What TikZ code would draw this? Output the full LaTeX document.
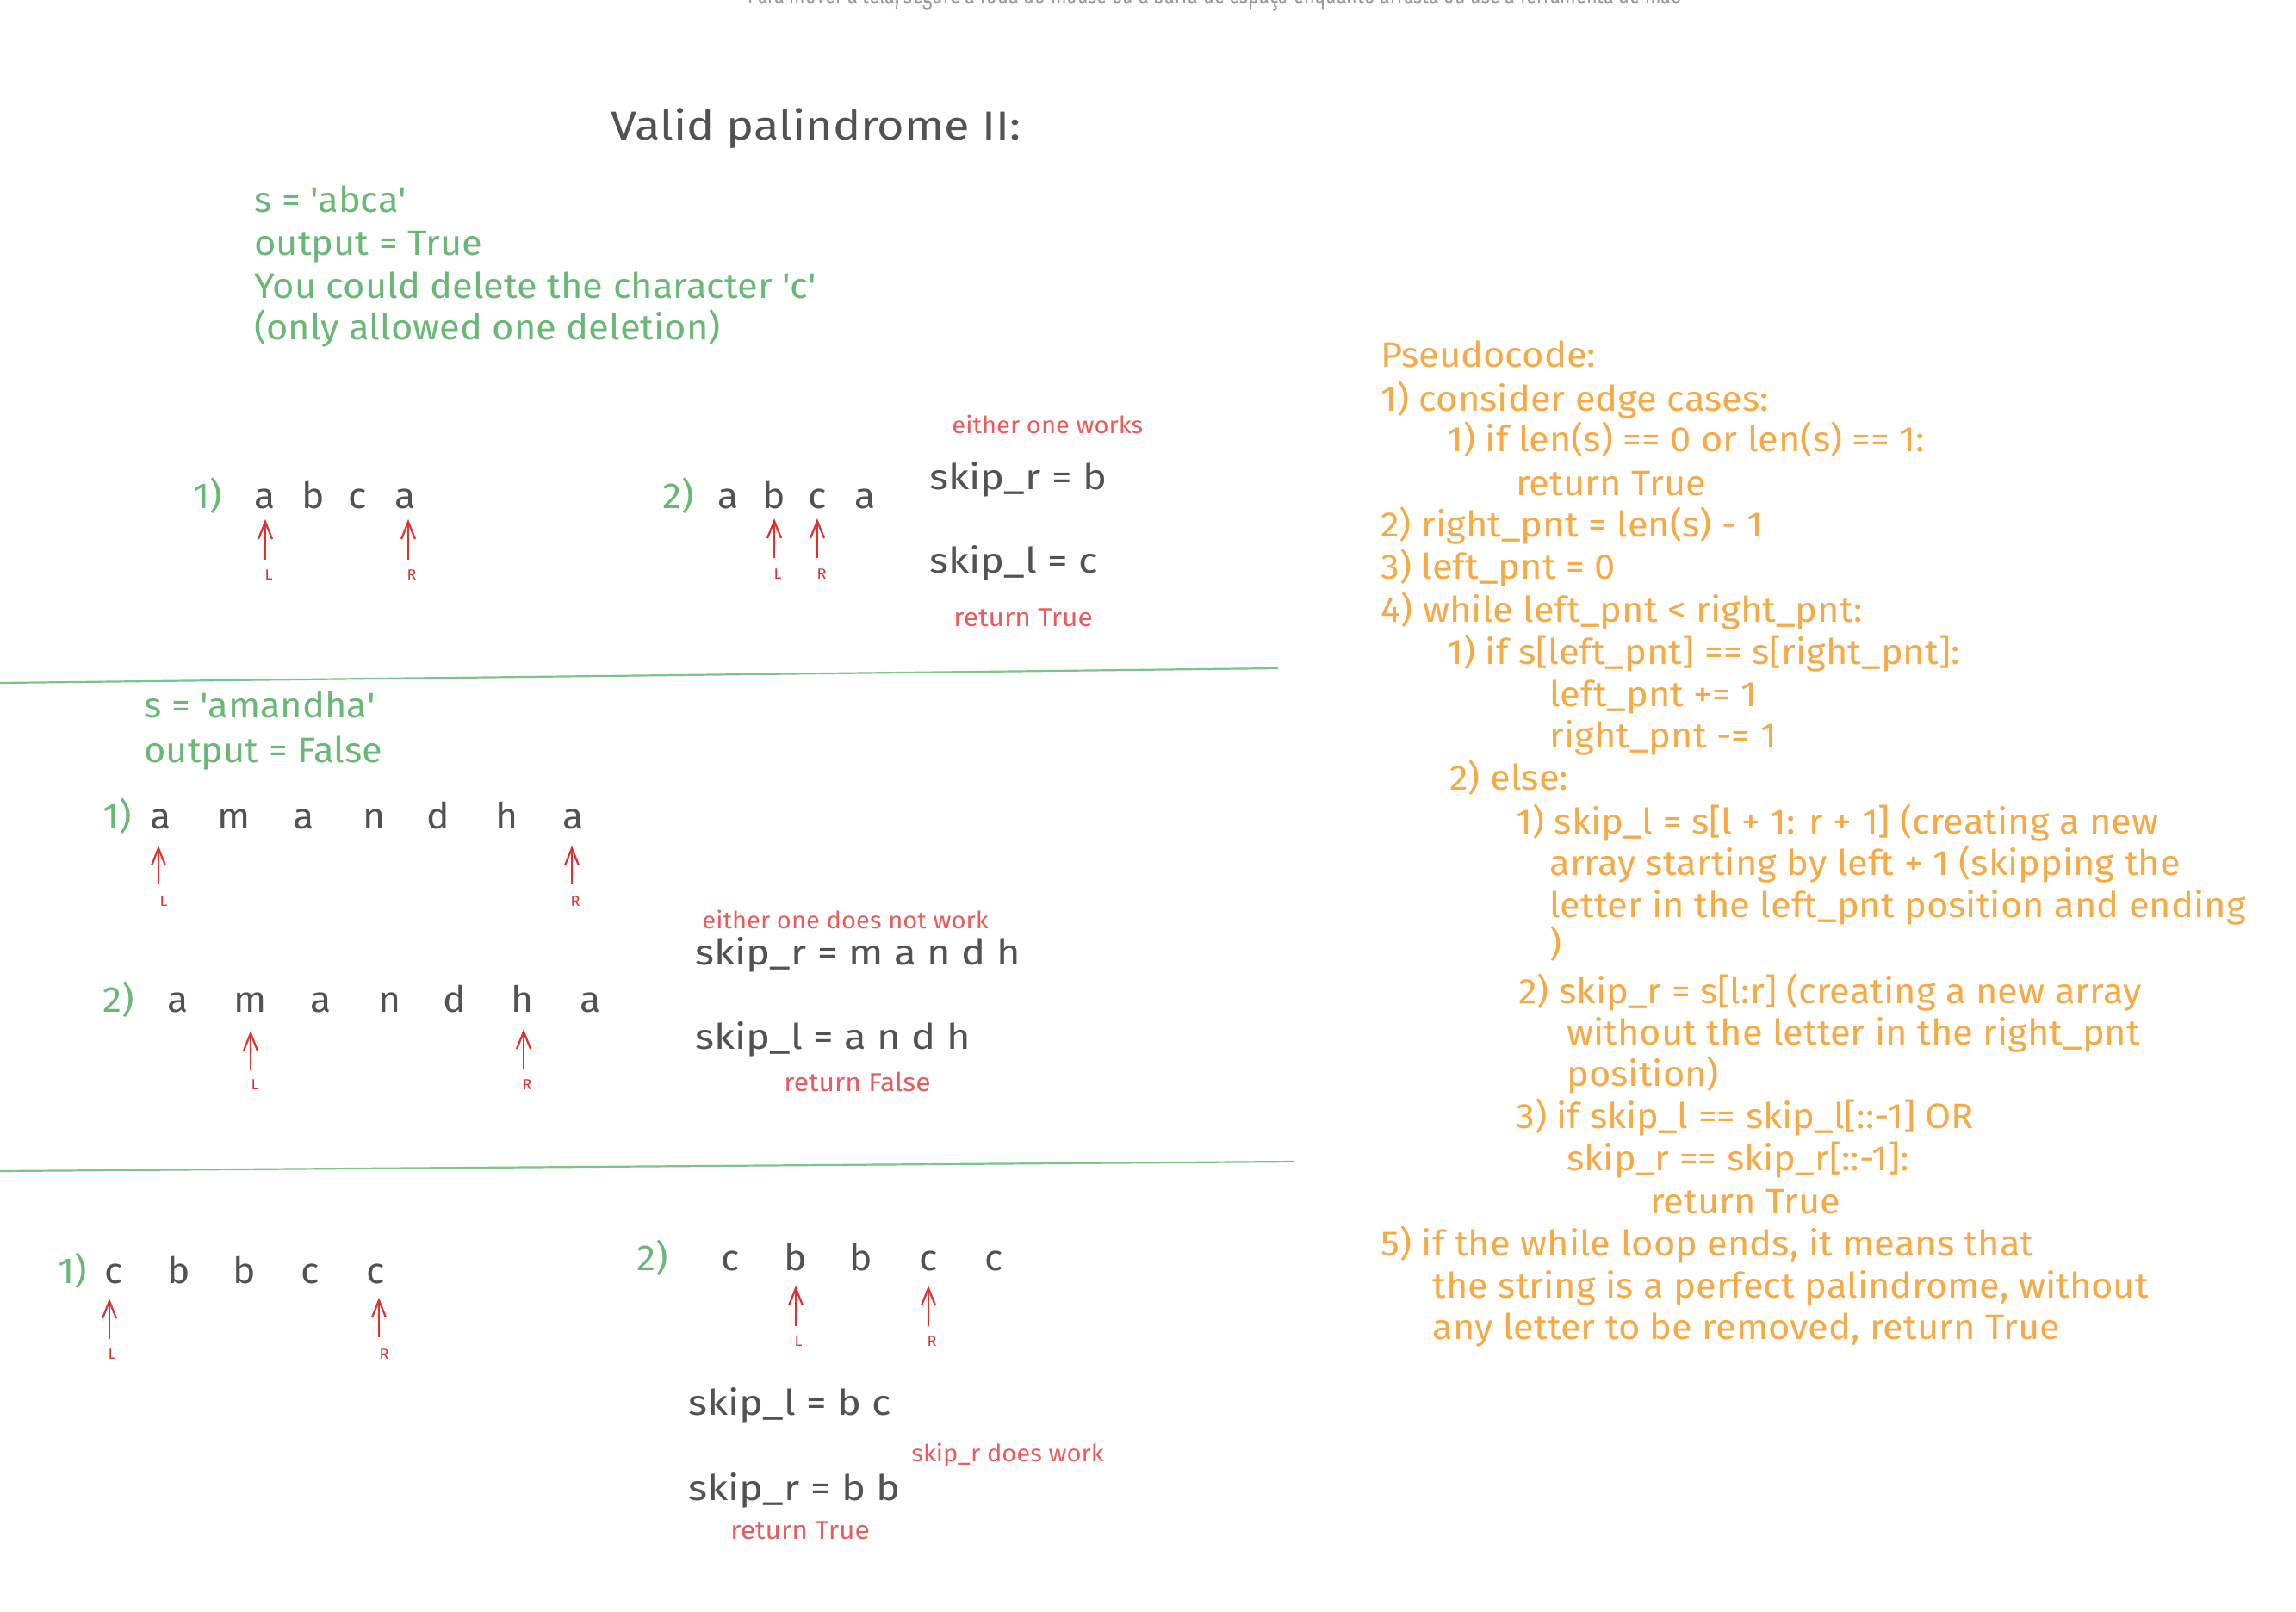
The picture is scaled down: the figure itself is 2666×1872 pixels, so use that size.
\documentclass[tikz,border=0pt]{standalone}
\usepackage{fontspec}
\setmainfont{Fira Sans}[Ligatures=TeXOff,FakeStretch=1.06]
\newfontfamily\widefont{Fira Sans}[Ligatures=TeXOff,FakeStretch=1.15]
\newfontfamily\faintfont{Fira Sans}[Ligatures=TeXOff,FakeStretch=0.6]
\usetikzlibrary{arrows.meta}
\definecolor{darkT}{RGB}{82,82,82}
\definecolor{greenT}{RGB}{105,184,117}
\definecolor{greenL}{RGB}{125,195,138}
\definecolor{orangeT}{RGB}{245,170,70}
\definecolor{redA}{RGB}{224,49,49}
\definecolor{redN}{RGB}{232,92,92}
\tikzset{
  base/.style={inner sep=0pt, anchor=base west},
  gtext/.style={base, text=greenT, font=\fontsize{20.5}{24}\selectfont},
  otext/.style={base, text=orangeT, font=\fontsize{20.5}{24}\selectfont},
  dtext/.style={base, text=darkT, font=\widefont\fontsize{20.5}{24}\selectfont},
  rnote/.style={base, text=redN, font=\fontsize{13.75}{16}\selectfont},
  rret/.style={base, text=redN, font=\fontsize{15}{18}\selectfont},
  ltr/.style={inner sep=0pt, anchor=base, text=darkT, font=\fontsize{21}{24}\selectfont},
  num/.style={base, text=greenT, font=\fontsize{21}{24}\selectfont},
  lab/.style={inner sep=0pt, anchor=center, text=redA, font=\fontsize{8.5}{10}\selectfont},
  ptr/.style={draw=redA, line width=1.1pt, -{Straight Barb[length=10pt,width=8pt]}},
  sep/.style={draw=greenL, line width=1.1pt},
}
\begin{document}
\begin{tikzpicture}[x=0.5pt,y=-0.5pt]
\useasboundingbox (0,0) rectangle (2666,1872);
\fill[white] (0,0) rectangle (2666,1872);
\clip (0,0) rectangle (2666,1872);

% faint hint at top
\node[inner sep=0pt, anchor=base, text=black!40, font=\faintfont\fontsize{18}{20}\selectfont] (hint) at (1411,5) {Para mover a tela, segure a roda do mouse ou a barra de espaço enquanto arrasta ou use a ferramenta de mão};

% title
\node[dtext, font=\widefont\fontsize{23.5}{28}\selectfont] (title) at (709,163) {Valid palindrome II:};

% example 1
\node[gtext] (g1) at (295,247) {s = 'abca'};
\node[gtext] (g2) at (295,297) {output = True};
\node[gtext] (g3) at (295,347) {You could delete the character 'c'};
\node[gtext] (g4) at (295,395) {(only allowed one deletion)};

% row 1a
\node[num] (n1a) at (224,590) {1)};
\node[ltr] (a1a) at (308,590) {a};
\node[ltr] (a1b) at (364,590) {b};
\node[ltr] (a1c) at (415,590) {c};
\node[ltr] (a1d) at (471,590) {a};
\coordinate (t1L) at (308,650); \coordinate (h1L) at (308,603);
\coordinate (t1R) at (474,650); \coordinate (h1R) at (474,603);
\draw[ptr] (t1L) -- (h1L);
\draw[ptr] (t1R) -- (h1R);
\node[lab] (l1L) at (312,668) {L};
\node[lab] (l1R) at (478,668) {R};

% row 1b
\node[num] (n1b) at (769,590) {2)};
\node[ltr] (b1a) at (846,590) {a};
\node[ltr] (b1b) at (899,590) {b};
\node[ltr] (b1c) at (949,590) {c};
\node[ltr] (b1d) at (1005,590) {a};
\coordinate (t2L) at (899,648); \coordinate (h2L) at (899,602);
\coordinate (t2R) at (949,648); \coordinate (h2R) at (949,602);
\draw[ptr] (t2L) -- (h2L);
\draw[ptr] (t2R) -- (h2R);
\node[lab] (l2L) at (903,667) {L};
\node[lab] (l2R) at (954,667) {R};

\node[rnote] (e1) at (1105,503) {either one works};
\node[dtext] (s1r) at (1079,568) {skip\_r = b};
\node[dtext] (s1l) at (1079,665) {skip\_l = c};
\node[rret] (r1) at (1107,727) {return True};

\coordinate (sepA1) at (0,793); \coordinate (sepA2) at (1484,776);
\draw[sep] (sepA1) -- (sepA2);

% example 2
\node[gtext] (h1) at (167,833) {s = 'amandha'};
\node[gtext] (h2) at (167,885) {output = False};

\node[num] (n2a) at (119,962) {1)};
\node[ltr] (c1) at (187,962) {a};
\node[ltr] (c2) at (272,962) {m};
\node[ltr] (c3) at (353,962) {a};
\node[ltr] (c4) at (435,962) {n};
\node[ltr] (c5) at (509,962) {d};
\node[ltr] (c6) at (589,962) {h};
\node[ltr] (c7) at (666,962) {a};
\coordinate (t3L) at (184,1027); \coordinate (h3L) at (184,982);
\coordinate (t3R) at (664,1027); \coordinate (h3R) at (664,982);
\draw[ptr] (t3L) -- (h3L);
\draw[ptr] (t3R) -- (h3R);
\node[lab] (l3L) at (190,1047) {L};
\node[lab] (l3R) at (668,1047) {R};

\node[num] (n2b) at (119,1175) {2)};
\node[ltr] (d1) at (207,1175) {a};
\node[ltr] (d2) at (291,1175) {m};
\node[ltr] (d3) at (373,1175) {a};
\node[ltr] (d4) at (453,1175) {n};
\node[ltr] (d5) at (528,1175) {d};
\node[ltr] (d6) at (607,1175) {h};
\node[ltr] (d7) at (686,1175) {a};
\coordinate (t4L) at (291,1243); \coordinate (h4L) at (291,1197);
\coordinate (t4R) at (608,1242); \coordinate (h4R) at (608,1195);
\draw[ptr] (t4L) -- (h4L);
\draw[ptr] (t4R) -- (h4R);
\node[lab] (l4L) at (296,1260) {L};
\node[lab] (l4R) at (612,1260) {R};

\node[rnote] (e2) at (815,1078) {either one does not work};
\node[dtext] (s2r) at (807,1120) {skip\_r = m a n d h};
\node[dtext] (s2l) at (807,1218) {skip\_l = a n d h};
\node[rret] (r2) at (910,1267) {return False};

\coordinate (sepB1) at (0,1360); \coordinate (sepB2) at (1503,1349);
\draw[sep] (sepB1) -- (sepB2);

% example 3
\node[num] (n3a) at (67,1490) {1)};
\node[ltr] (f1) at (132,1490) {c};
\node[ltr] (f2) at (208,1490) {b};
\node[ltr] (f3) at (284,1490) {b};
\node[ltr] (f4) at (360,1490) {c};
\node[ltr] (f5) at (436,1490) {c};
\coordinate (t5L) at (127,1555); \coordinate (h5L) at (127,1508);
\coordinate (t5R) at (440,1553); \coordinate (h5R) at (440,1507);
\draw[ptr] (t5L) -- (h5L);
\draw[ptr] (t5R) -- (h5R);
\node[lab] (l5L) at (130,1573) {L};
\node[lab] (l5R) at (446,1573) {R};

\node[num] (n3b) at (739,1475) {2)};
\node[ltr] (k1) at (848,1475) {c};
\node[ltr] (k2) at (924,1475) {b};
\node[ltr] (k3) at (1000,1475) {b};
\node[ltr] (k4) at (1078,1475) {c};
\node[ltr] (k5) at (1154,1475) {c};
\coordinate (t6L) at (924,1540); \coordinate (h6L) at (924,1493);
\coordinate (t6R) at (1078,1540); \coordinate (h6R) at (1078,1493);
\draw[ptr] (t6L) -- (h6L);
\draw[ptr] (t6R) -- (h6R);
\node[lab] (l6L) at (927,1558) {L};
\node[lab] (l6R) at (1082,1558) {R};

\node[dtext] (s3l) at (799,1643) {skip\_l = b c};
\node[rnote] (e3) at (1058,1697) {skip\_r does work};
\node[dtext] (s3r) at (799,1742) {skip\_r = b b};
\node[rret] (r3) at (848,1787) {return True};

% pseudocode
\node[otext] (p01) at (1603,427) {Pseudocode:};
\node[otext] (p02) at (1603,478) {1) consider edge cases:};
\node[otext] (p03) at (1680,524) {1) if len(s) == 0 or len(s) == 1:};
\node[otext] (p04) at (1760,575) {return True};
\node[otext] (p05) at (1603,623) {2) right\_pnt = len(s) - 1};
\node[otext] (p06) at (1603,672) {3) left\_pnt = 0};
\node[otext] (p07) at (1603,722) {4) while left\_pnt < right\_pnt:};
\node[otext] (p08) at (1680,771) {1) if s[left\_pnt] == s[right\_pnt]:};
\node[otext] (p09) at (1799,820) {left\_pnt += 1};
\node[otext] (p10) at (1799,868) {right\_pnt -= 1};
\node[otext] (p11) at (1683,917) {2) else:};
\node[otext] (p12) at (1760,968) {1) skip\_l = s[l + 1: r + 1] (creating a new};
\node[otext] (p13) at (1799,1016) {array starting by left + 1 (skipping the};
\node[otext] (p14) at (1799,1065) {letter in the left\_pnt position and ending};
\node[otext] (p15) at (1799,1110) {)};
\node[otext] (p16) at (1763,1165) {2) skip\_r = s[l:r] (creating a new array};
\node[otext] (p17) at (1819,1213) {without the letter in the right\_pnt};
\node[otext] (p18) at (1819,1261) {position)};
\node[otext] (p19) at (1760,1310) {3) if skip\_l == skip\_l[::-1] OR};
\node[otext] (p20) at (1819,1359) {skip\_r == skip\_r[::-1]:};
\node[otext] (p21) at (1916,1409) {return True};
\node[otext] (p22) at (1603,1458) {5) if the while loop ends, it means that};
\node[otext] (p23) at (1663,1507) {the string is a perfect palindrome, without};
\node[otext] (p24) at (1663,1555) {any letter to be removed, return True};
\end{tikzpicture}
\end{document}
